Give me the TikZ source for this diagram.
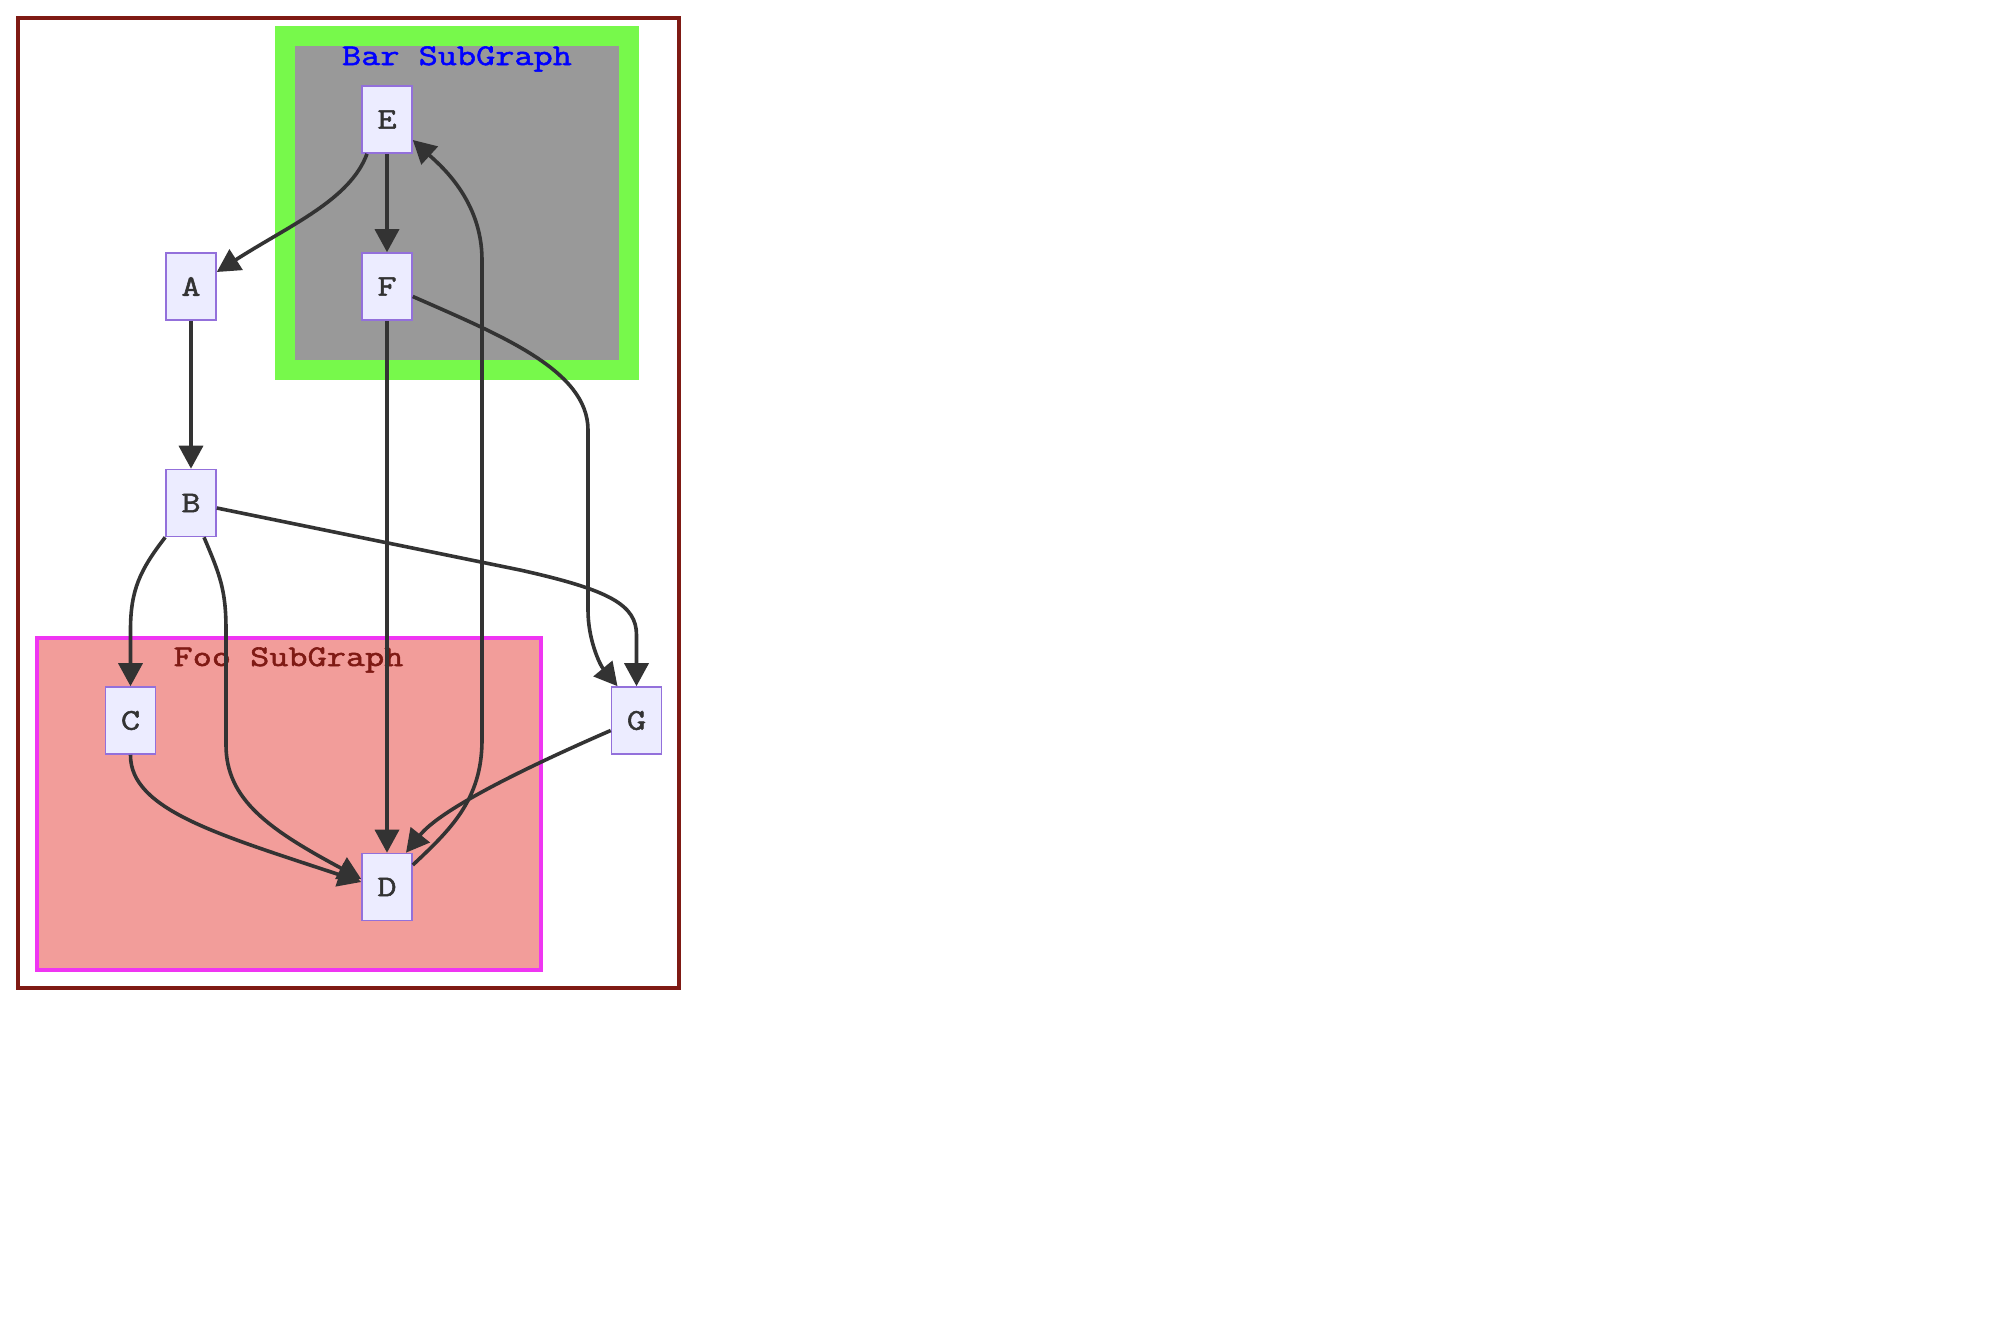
\documentclass[tikz,border=0pt]{standalone}
\usepackage{fontspec}
\usetikzlibrary{arrows.meta,calc}
\newfontfamily\dfont[FakeStretch=1.24,FakeBold=1.8]{Latin Modern Mono}
\definecolor{outerred}{HTML}{7F1A14}
\definecolor{foofill}{HTML}{F29D9A}
\definecolor{foostroke}{HTML}{EF35F2}
\definecolor{barfill}{HTML}{999999}
\definecolor{bargreen}{HTML}{77F94B}
\definecolor{bartitle}{HTML}{0000FF}
\definecolor{ndfill}{HTML}{ECECFF}
\definecolor{ndstroke}{HTML}{9370DB}
\definecolor{ndtext}{HTML}{333333}
\definecolor{edgec}{HTML}{333333}
\begin{document}
\begin{tikzpicture}[x=1pt,y=-1pt,
  txt/.style={font=\dfont\fontsize{30}{36}\selectfont,inner sep=0pt},
  nd/.style={txt,draw=ndstroke,fill=ndfill,line width=1.6pt,minimum width=50pt,minimum height=67pt,text=ndtext},
  edge/.style={draw=edgec,line width=3.6pt,-{Triangle[length=23pt,width=24pt]}},
  title/.style={txt,anchor=base}]
\useasboundingbox (0,0) rectangle (2000,1320);
\fill[white] (0,0) rectangle (2000,1320);
% outer frame
\draw[outerred,line width=3.8pt] (18,18) rectangle (679,988);
% Bar subgraph
\filldraw[fill=barfill,draw=bargreen,line width=20pt] (285,36) rectangle (629,370);
\node[title,text=bartitle] (bart) at (457,65) {Bar SubGraph};
% Foo subgraph
\filldraw[fill=foofill,draw=foostroke,line width=4pt] (36.5,637.5) rectangle (541,970);
\node[title,text=outerred] (foot) at (288.5,666) {Foo SubGraph};
% nodes
\node[nd] (E) at (387,119.5) {E};
\node[nd] (F) at (387,286.5) {F};
\node[nd] (A) at (191,286.5) {A};
\node[nd] (B) at (191,503) {B};
\node[nd] (C) at (130.5,720.5) {C};
\node[nd] (D) at (387,887) {D};
\node[nd] (G) at (636.5,720.5) {G};
% edges
\draw[edge] ($(E.south)+(-20,0)$) .. controls (350,200) and (290,225) .. ($(A.east)+(0,-14.5)$);
\draw[edge] (E.south) -- (F.north);
\draw[edge] (A.south) -- (B.north);
\draw[edge] (F.south) -- (D.north);
\draw[edge] ($(D.east)+(0,-22)$) .. controls (450,830) and (482,800) .. (482,740) -- (482,260) .. controls (482,200) and (440,165) .. ($(E.east)+(0,20.5)$);
\draw[edge] ($(F.east)+(0,10)$) .. controls (500,335) and (588,370) .. (588,430) -- (588,610) .. controls (588,640) and (600,665) .. ($(G.north)+(-19,0)$);
\draw[edge] ($(B.east)+(0,5)$) -- (520,570) .. controls (610,590) and (636.5,605) .. (636.5,635) -- (G.north);
\draw[edge] (B.south west) .. controls (140,570) and (130.5,590) .. (130.5,630) -- (C.north);
\draw[edge] ($(B.south)+(13,0)$) .. controls (220,575) and (226,590) .. (226,630) -- (226,745) .. controls (226,800) and (270,830) .. ($(D.west)+(0,-8)$);
\draw[edge] (C.south) .. controls (130,810) and (220,835) .. ($(D.west)+(0,-5)$);
\draw[edge] ($(G.west)+(0,10)$) .. controls (520,770) and (440,810) .. ($(D.north)+(19,0)$);
\end{tikzpicture}
\end{document}
